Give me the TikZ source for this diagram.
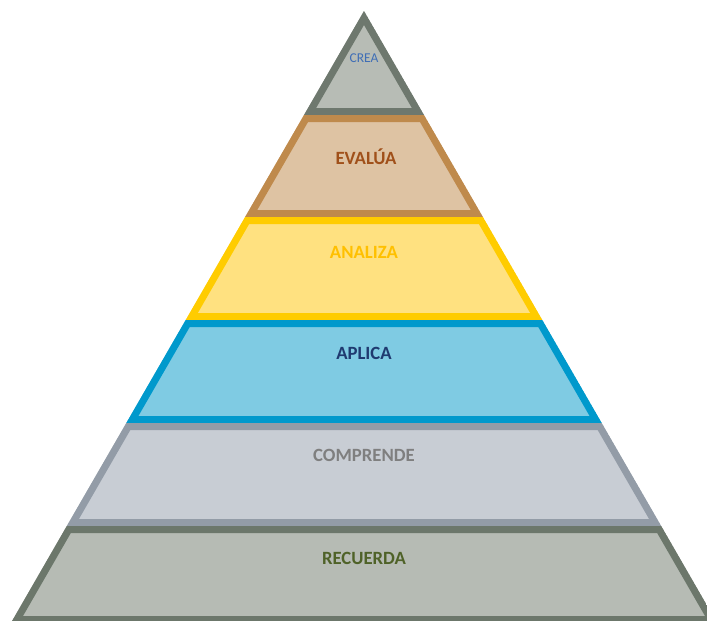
\documentclass[tikz,border=0pt]{standalone}
\usepackage{fontspec}
\setmainfont{Carlito}

\definecolor{creaFill}{HTML}{B7BCB5}
\definecolor{creaLine}{HTML}{6E786E}
\definecolor{creaText}{HTML}{3F6EB5}
\definecolor{evaluaFill}{HTML}{DEC3A3}
\definecolor{evaluaLine}{HTML}{BF8A4C}
\definecolor{evaluaText}{HTML}{A0501A}
\definecolor{analizaFill}{HTML}{FFE180}
\definecolor{analizaLine}{HTML}{FFCC00}
\definecolor{analizaText}{HTML}{FFC000}
\definecolor{aplicaFill}{HTML}{7FCBE3}
\definecolor{aplicaLine}{HTML}{0099CC}
\definecolor{aplicaText}{HTML}{1F3A70}
\definecolor{comprendeFill}{HTML}{C8CDD4}
\definecolor{comprendeLine}{HTML}{939CA7}
\definecolor{comprendeText}{HTML}{7F7F7F}
\definecolor{recuerdaFill}{HTML}{B6BBB4}
\definecolor{recuerdaLine}{HTML}{6C776B}
\definecolor{recuerdaText}{HTML}{4F6228}

\begin{document}
\begin{tikzpicture}[x=1pt,y=-1pt]
\useasboundingbox (0,0) rectangle (707,621);

\coordinate (V0_1) at (364, 11);
\coordinate (V1_1) at (304.0, 115);
\coordinate (V1_2) at (424.0, 115);
\coordinate (V2_1) at (245.1, 217);
\coordinate (V2_2) at (482.9, 217);
\coordinate (V3_1) at (185.7, 320);
\coordinate (V3_2) at (542.3, 320);
\coordinate (V4_1) at (126.3, 423);
\coordinate (V4_2) at (601.7, 423);
\coordinate (V5_1) at (66.8, 526);
\coordinate (V5_2) at (661.2, 526);
\coordinate (V6_1) at (10.9, 623);
\coordinate (V6_2) at (717.1, 623);


\tikzset{LayerStyle/.style = {line width=14pt, line join=miter} }

\begin{scope}
\clip (V0_1) -- (V1_2) -- (V1_1) -- cycle;
\filldraw[ LayerStyle, fill=creaFill, draw=creaLine] (V0_1) -- (V1_2) -- (V1_1) -- cycle;
\end{scope}
\begin{scope}
\clip (V1_1) -- (V1_2) -- (V2_2) -- (V2_1) -- cycle;
\filldraw[ LayerStyle, fill=evaluaFill, draw=evaluaLine] (V1_1) -- (V1_2) -- (V2_2) -- (V2_1) -- cycle;
\end{scope}
\begin{scope}
\clip (V2_1) -- (V2_2) -- (V3_2) -- (V3_1) -- cycle;
\filldraw[ LayerStyle, fill=analizaFill, draw=analizaLine] (V2_1) -- (V2_2) -- (V3_2) -- (V3_1) -- cycle;
\end{scope}
\begin{scope}
\clip (V3_1) -- (V3_2) -- (V4_2) -- (V4_1) -- cycle;
\filldraw[ LayerStyle, fill=aplicaFill, draw=aplicaLine] (V3_1) -- (V3_2) -- (V4_2) -- (V4_1) -- cycle;
\end{scope}
\begin{scope}
\clip (V4_1) -- (V4_2) -- (V5_2) -- (V5_1) -- cycle;
\filldraw[ LayerStyle, fill=comprendeFill, draw=comprendeLine] (V4_1) -- (V4_2) -- (V5_2) -- (V5_1) -- cycle;
\end{scope}
\begin{scope}
\clip (V5_1) -- (V5_2) -- (V6_2) -- (V6_1) -- cycle;
\filldraw[ LayerStyle, fill=recuerdaFill, draw=recuerdaLine] (V5_1) -- (V5_2) -- (V6_2) -- (V6_1) -- cycle;
\end{scope}


\tikzset{LabelStyle/.style = {
 anchor = base,
 inner sep = 0pt,
 font = \fontsize{18.7}{20}\selectfont\bfseries} }

\node[LabelStyle, font=\fontsize{13.5}{15}\selectfont, text=creaText] (L1) at (364, 62.3) {CREA};
\node[LabelStyle, text=evaluaText] (L2) at (366, 164) {EVALÚA};
\node[LabelStyle, text=analizaText] (L3) at (364, 258) {ANALIZA};
\node[LabelStyle, text=aplicaText] (L4) at (364, 359) {APLICA};
\node[LabelStyle, text=comprendeText] (L5) at (364, 461) {COMPRENDE};
\node[LabelStyle, text=recuerdaText] (L6) at (364, 564) {RECUERDA};

\end{tikzpicture}
\end{document}
